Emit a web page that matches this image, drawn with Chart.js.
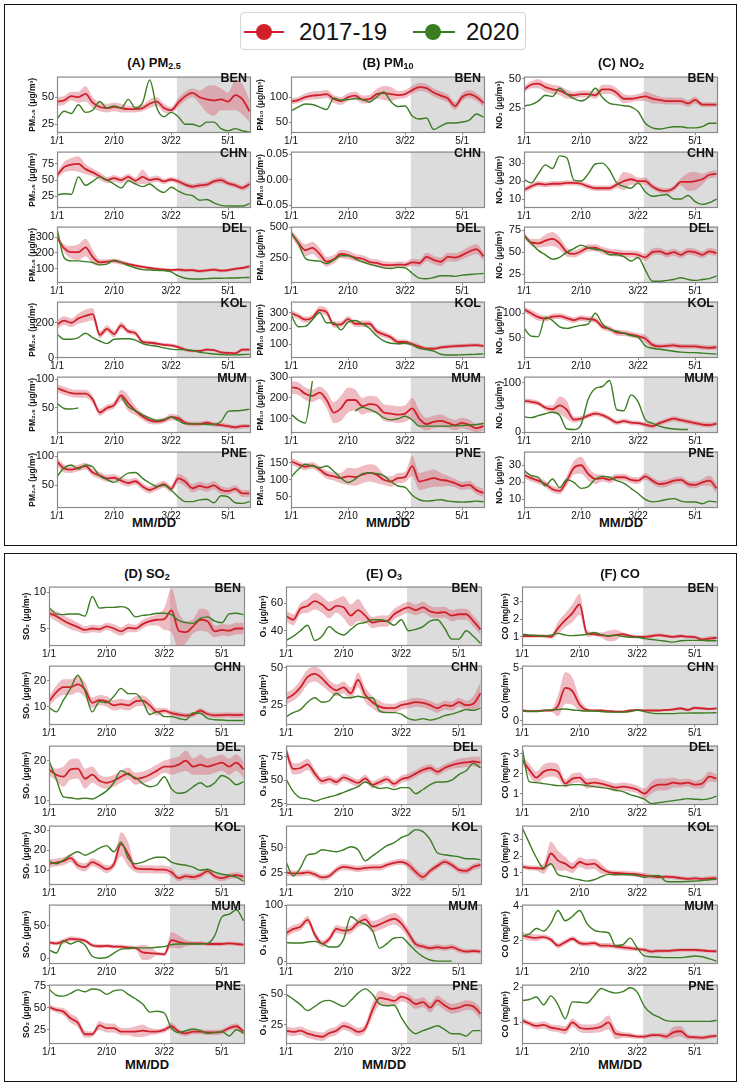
<!DOCTYPE html>
<html>
<head>
<meta charset="utf-8">
<title>Pollutants 2017-19 vs 2020</title>
<script src="https://cdn.jsdelivr.net/npm/chart.js@4.4.1/dist/chart.umd.min.js"></script>
<style>
  body { margin: 0; background: #fff; font-family: "Liberation Sans", Arial, sans-serif; }
  #page { position: relative; width: 742px; height: 1085px; overflow: hidden; }
  .box { position: absolute; border: 1.5px solid #111; box-sizing: border-box; }
  .abs { position: absolute; white-space: nowrap; color: #111; }
  .coltitle { font-weight: bold; font-size: 13px; line-height: 14px; text-align: center; }
  .coltitle sub { font-size: 9px; vertical-align: -2px; line-height: 0; }
  .station { font-weight: bold; font-size: 12.5px; line-height: 13px; text-align: right; }
  .xlabel { font-weight: bold; font-size: 13px; line-height: 14px; text-align: center; }
  canvas { position: absolute; }
  #legend { position: absolute; left: 240px; top: 12px; width: 286px; height: 38px; border: 1px solid #d4d4d4; border-radius: 4px; box-sizing: border-box; background: #fff; }
  .lg-line { position: absolute; height: 2px; top: 18px; }
  .lg-dot { position: absolute; width: 16px; height: 16px; border-radius: 50%; top: 11px; }
  .lg-text { position: absolute; font-size: 24px; line-height: 28px; top: 5px; color: #111; }
</style>
</head>
<body>
<div id="page">
  <div class="box" style="left:4px;top:4px;width:733px;height:542px"></div>
  <div class="box" style="left:4px;top:553px;width:733px;height:529px"></div>
  <div id="legend">
    <div class="lg-line" style="left:3px;width:40px;background:#d0202a"></div>
    <div class="lg-dot" style="left:15px;background:#d0202a"></div>
    <div class="lg-text" style="left:58px">2017-19</div>
    <div class="lg-line" style="left:172px;width:42px;background:#3a7d22"></div>
    <div class="lg-dot" style="left:184px;background:#3a7d22"></div>
    <div class="lg-text" style="left:225px">2020</div>
  </div>
</div>
<script>
// x axis: days since 1/1 (2020 calendar), sampled every 5 days
const DAYS = [0,5,10,15,20,25,30,35,40,45,50,55,60,65,70,75,80,85,90,95,100,105,110,115,120,125,130,135];
const X_TICKS = [0, 40, 80, 120];
const X_TICK_LABELS = ['1/1', '2/10', '3/22', '5/1'];
const LOCKDOWN_DAY = 84; // shaded from 3/25
const X_MAX = 136;
const STATIONS = ['BEN', 'CHN', 'DEL', 'KOL', 'MUM', 'PNE'];

// ---- PM2.5 ----
const PM25_BEN_1719 = [46,47,51,50,53,45,41,40,41,40,39,39,40,44,46,40,38,45,51,54,50,48,47,48,46,52,48,37];
const PM25_BEN_BAND = [4,4,4,5,7,5,4,4,4,4,3,3,3,4,4,4,3,4,4,4,6,12,14,10,8,14,14,10];
const PM25_BEN_2020 = [30,37,35,43,36,38,46,40,42,40,48,40,45,66,40,32,36,32,25,25,23,27,27,21,19,21,19,18];
const PM25_CHN_1719 = [57,70,74,75,67,62,56,50,53,50,55,49,55,50,52,48,51,48,43,40,42,43,48,50,45,42,38,44];
const PM25_CHN_BAND = [5,8,10,12,8,6,6,5,5,5,5,5,11,5,5,4,4,4,4,4,4,4,4,5,4,4,4,5];
const PM25_CHN_2020 = [27,29,28,55,42,48,55,50,44,38,49,44,40,44,36,31,39,33,28,26,19,20,15,11,10,10,10,14];
const PM25_DEL_1719 = [300,230,205,205,235,175,140,145,150,140,130,120,112,105,100,95,92,95,90,92,85,90,95,88,92,100,105,115];
const PM25_DEL_BAND = [10,25,40,50,55,45,20,15,15,15,10,10,10,10,10,10,10,10,10,10,10,10,10,10,10,10,10,12];
const PM25_DEL_2020 = [355,170,150,150,145,140,125,130,155,140,120,105,95,92,90,88,80,55,40,35,35,38,40,40,42,42,44,45];
const PM25_KOL_1719 = [190,212,200,225,240,250,130,165,135,185,150,140,90,85,80,73,70,60,45,38,38,45,42,30,26,24,45,45];
const PM25_KOL_BAND = [25,25,25,30,35,35,20,20,20,20,15,15,12,12,10,10,10,10,10,8,8,8,8,8,8,8,10,10];
const PM25_KOL_2020 = [134,105,105,115,140,115,95,80,105,108,108,100,80,70,65,55,48,45,45,40,30,25,20,17,15,15,17,18];
const PM25_MUM_1719 = [85,80,76,75,75,65,42,50,55,72,58,45,35,28,26,28,34,32,24,22,22,24,21,20,18,16,18,18];
const PM25_MUM_BAND = [7,7,7,7,7,7,6,6,6,10,14,8,6,6,5,5,6,5,4,4,4,4,4,4,4,4,4,4];
const PM25_MUM_2020 = [58,49,48,50,null,null,null,null,null,70,52,45,38,32,28,30,34,28,22,22,22,21,21,26,44,45,46,48];
const PM25_PNE_1719 = [91,79,77,80,83,72,67,62,63,58,54,57,48,42,47,52,44,62,56,45,49,46,50,42,40,44,36,36];
const PM25_PNE_BAND = [7,7,6,6,6,6,6,6,6,6,6,6,6,6,6,6,6,8,8,7,7,7,7,7,6,6,6,6];
const PM25_PNE_2020 = [65,80,85,78,85,82,66,60,55,63,71,72,62,54,48,50,42,30,22,22,25,26,20,32,30,20,19,22];

// ---- PM10 ----
const PM10_BEN_1719 = [91,94,100,103,104,106,96,92,100,103,95,96,106,108,106,104,106,114,120,118,109,103,97,82,100,106,100,88];
const PM10_BEN_BAND = [6,6,7,8,8,8,8,8,8,8,8,8,10,14,14,8,8,8,8,8,8,8,8,8,8,8,8,8];
const PM10_BEN_2020 = [72,80,86,85,80,75,98,94,95,97,95,90,100,110,91,81,82,62,56,58,35,42,48,48,50,54,66,60];
const PM10_CHN_1719 = [];
const PM10_CHN_BAND = [];
const PM10_CHN_2020 = [];
const PM10_DEL_1719 = [455,375,310,330,280,215,235,280,270,250,240,215,205,190,188,192,190,210,205,255,230,215,255,250,270,300,320,260];
const PM10_DEL_BAND = [25,40,50,50,50,40,35,35,35,30,30,30,30,30,25,25,25,30,30,35,35,35,35,35,35,40,40,35];
const PM10_DEL_2020 = [455,370,245,225,220,200,230,265,265,240,215,195,180,165,160,170,165,120,80,75,85,100,100,95,105,110,115,118];
const PM10_KOL_1719 = [297,278,255,268,316,303,223,225,258,229,229,229,181,161,142,113,113,99,83,70,70,78,83,87,89,91,93,87];
const PM10_KOL_BAND = [20,20,20,20,25,25,20,20,20,20,20,20,20,20,18,18,15,15,15,12,12,12,12,12,12,12,12,12];
const PM10_KOL_2020 = [287,210,212,255,300,235,235,190,239,250,228,200,152,120,105,102,105,95,72,65,55,35,30,30,32,33,35,37];
const PM10_MUM_1719 = [250,245,220,210,225,190,130,150,190,190,160,170,165,130,125,120,125,150,100,75,85,90,80,70,80,70,55,65];
const PM10_MUM_BAND = [30,30,30,30,30,40,50,60,60,50,40,40,40,40,40,40,40,50,40,30,30,30,25,25,25,25,20,20];
const PM10_MUM_2020 = [123,94,80,280,null,null,null,null,null,138,155,145,130,105,95,100,112,95,65,65,65,65,65,67,68,70,73,78];
const PM10_PNE_1719 = [154,145,138,142,130,115,110,105,110,108,115,120,115,100,95,105,108,140,95,100,105,100,97,90,82,85,70,62];
const PM10_PNE_BAND = [10,10,10,10,10,12,12,15,25,25,25,25,25,15,15,15,15,30,25,25,25,20,15,12,12,12,12,12];
const PM10_PNE_2020 = [108,130,145,140,135,140,125,105,92,102,118,120,118,112,95,82,78,55,42,38,40,42,38,36,35,36,38,36];

// ---- NO2 ----
const NO2_BEN_1719 = [41,45,46,43,41,40,37,36,37,37,36,41,41,38,33,33,34,35,33,32,31,31,31,29,32,28,28,28];
const NO2_BEN_BAND = [3,3,4,4,4,4,4,3,3,3,3,4,4,4,4,3,3,4,4,3,3,3,3,3,3,2,2,2];
const NO2_BEN_2020 = [27,28,31,36,35,42,37,33,31,34,42,34,29,28,27,26,22,12,8,7,8,9,9,8,8,9,12,12];
const NO2_CHN_1719 = [15,17,18.5,18,18.5,18.5,19,19,18.5,17,16,16,16,18,20,21,20,20,17,15,14.5,16,19.5,19.5,20,21,23.5,24];
const NO2_CHN_BAND = [1.5,1.5,1.5,1.5,1.5,1.5,1.5,1.5,1.5,1.5,1.5,1.5,1.5,2,5,3,2,2,1.5,1.5,1.5,1.5,2,5,5,3,2,2];
const NO2_CHN_2020 = [21,19,24,29,27,34,33,20.5,20,24,29.5,30,26,19,17,16,19,14,11.5,12,12.5,10,10,12,8.5,7,8,10];
const NO2_DEL_1719 = [69,61,60,63,65,60,50,48,51,55,55,52,50,49,48,48,47,44,50,51,48,50,47,51,50,47,51,49];
const NO2_DEL_BAND = [3,4,5,7,8,7,5,4,4,4,4,4,4,4,4,4,4,4,4,4,4,4,4,4,4,4,4,4];
const NO2_DEL_2020 = [69,60,52,47,42,44,50,54,58,55,53,52,47,47,45,40,44,30,17,17,18,19,21,19,18,19,20,23];
const NO2_KOL_1719 = [108,100,92,89,93,94,90,86,90,88,86,72,68,60,59,56,53,48,35,32,33,34,32,32,32,30,29,30];
const NO2_KOL_BAND = [6,7,7,6,6,6,6,6,6,6,6,6,6,6,6,6,6,8,6,5,5,5,5,5,5,5,5,5];
const NO2_KOL_2020 = [70,53,52,92,85,72,69,72,75,78,100,78,67,63,59,54,51,33,28,26,24,22,20,19,19,18,17,16];
const NO2_MUM_1719 = [63,61,58,49,46,54,45,25,27,33,37,34,27,19,22,19,18,15,12,18,23,27,24,21,18,15,14,17];
const NO2_MUM_BAND = [5,5,5,5,8,18,18,6,5,5,5,5,5,5,5,5,5,5,5,5,5,5,5,5,5,5,5,5];
const NO2_MUM_2020 = [31,29,33,37,40,34,6,5,15,66,88,92,104,45,43,75,61,25,18,12,8,6,5,5,null,null,null,null];
const NO2_PNE_1719 = [24.4,22.5,21,19,16,15,21,28.5,30,25,22,22.5,21.5,23,23,21.5,21,23.5,21,19,19.5,21,21.5,19,18.5,20,21,16.5];
const NO2_PNE_BAND = [2,2,2,2,2,2,3,4,5,4,3,2,2,2,2,2,2,2,2,2,2,2,2,2,2,2,3,3];
const NO2_PNE_2020 = [27,24,23,18,22,17,21.5,20,16.5,17.5,22,23.5,23,21,19.5,16.5,13.5,10,8.6,9,10,10.5,9,8.5,8.5,7.5,9,8.5];

// ---- SO2 ----
const SO2_BEN_1719 = [7.1,6.7,6.1,5.6,5.2,4.8,5.0,4.9,5.3,5.0,4.6,5.1,5.0,5.6,6.0,6.2,6.3,7.5,4.7,4.5,5.3,6.2,6.0,4.6,4.8,4.7,5.0,5.0];
const SO2_BEN_BAND = [0.5,0.7,0.7,0.7,0.6,0.5,0.5,0.5,0.5,0.6,0.6,0.6,0.5,0.6,0.6,0.8,1.5,3,2.5,1.5,1,1.5,1.5,0.8,0.8,0.8,0.8,0.8];
const SO2_BEN_2020 = [7.9,7.0,6.9,7.0,7.0,6.7,9.4,7.8,7.9,7.9,8.0,7.7,6.6,6.8,6.9,7.1,7.1,6.9,6.1,5.8,5.7,6.4,6.6,6.0,5.8,7.0,7.1,6.9];
const SO2_CHN_1719 = [12,15.5,17.5,17.5,18.5,16.5,11.5,12.5,12,10.5,11,10.5,12,12.3,10.5,8,8.5,7.5,7,6.6,7,8.5,7.2,6.7,6.8,6.9,6.8,6.9];
const SO2_CHN_BAND = [2,2.5,3,3,3,3,2,2,2,2,2,2,2,2,2,1.5,1,1,1,1,1,1,1,1,1,1,1,1];
const SO2_CHN_2020 = [9.7,8,12.5,17,22,16,8,12,11.5,14,17,15,15,12,7,8,6.2,6.2,5.5,5,7.6,7.5,5.5,5,4.9,4.7,4.7,4.7];
const SO2_DEL_1719 = [17.8,16.5,16,17.8,18,15.5,16.5,15,14.5,15,16,16.8,15.5,15.8,16.5,17.5,18.5,18.5,19,20,18.5,19,18.5,19,19.5,18.5,19.5,17.8];
const SO2_DEL_BAND = [1.5,1.5,2.5,2.5,2.5,2.5,2,1.5,1.5,1.5,1.5,1.5,1.5,1.5,1.5,1.5,1.5,2,2,2.5,2,2.5,2,2,2,2,2,2];
const SO2_DEL_2020 = [20,15.5,11,10.8,10.5,10.7,10.5,11.3,12.5,14.5,17.5,16.5,15.8,14.3,13.5,14,16,13,11.9,12.2,13.5,14.5,13.5,14.5,16.3,15.5,14,14.8];
const SO2_KOL_1719 = [13.2,13.8,14.5,16,12.5,11.5,14,12.5,10.5,13,23,18,11,10.5,10.5,10.3,10.3,9,6,7,6.5,7.5,9.5,7,6,7,7.5,6.8];
const SO2_KOL_BAND = [2,2,2,2,2,2,2,2,2,2,6,6,2,2,2,2,2,2,1.5,1.5,1.5,1.5,1.5,1.5,1.5,1.5,1.5,1.5];
const SO2_KOL_2020 = [14.7,13.2,15,17.5,19.2,17.5,19,21,22.3,19.2,24,16,13.2,14,15.5,16.5,16.5,14,13,12.5,11.5,10,10.5,9,8,7.5,6.5,4.5];
const SO2_MUM_1719 = [24.5,23,26,30,29,27,20,18.5,19,18,18,16.5,16,9,8,7,6,28,25,23,23,23,22,22,22,23,22,21];
const SO2_MUM_BAND = [3,3,4,4,4,3,3,3,3,3,3,3,3,12,10,3,3,12,10,5,3,3,3,3,3,3,3,3];
const SO2_MUM_2020 = [13,8,27,22,26,20,3,0,1,8,14,15,16,16,16,17,18,21,22,22,22,22,23,35,64,68,75,58];
const SO2_PNE_1719 = [50.7,47.5,45.5,38,33,20,20,30,27,27,23,23,23,24,23,23,25,29,23,21,23,23,22,22,23,27,29,23];
const SO2_PNE_BAND = [3,3,4,5,5,4,3,5,5,5,4,4,6,7,4,3,3,4,3,3,3,3,3,3,3,3,3,3];
const SO2_PNE_2020 = [71,64,63,66,70,68,71,70,65,69,70,65,60,54,45,46,44,27,22,24,26,24,21,22,23,18,25,21];

// ---- O3 ----
const O3_BEN_1719 = [50.7,48,56,58,61.5,59,55,58,57,51,55,51,46,47,47,52,55,57,55,57,54,53,53.5,51,52,52,47,41];
const O3_BEN_BAND = [4,4,4,5,6,6,6,5,8,8,8,5,4,4,4,4,4,4,4,4,4,4,4,4,4,4,4,4];
const O3_BEN_2020 = [33,36,40,44,33,36,43,39,37,41,45,46,48,48,47,44,48,40,41,43,47,48,42,34,34,40,36,31];
const O3_CHN_1719 = [29.4,32,37,44,46,43,38,35,37,33,42,32,27,24,23,23,25,26,27,26.5,25,23,25,24.5,27,25,26,33];
const O3_CHN_BAND = [4,4,5,5,5,5,4,4,4,4,5,5,4,4,3,3,3,3,3,3,3,3,3,3,3,3,5,8];
const O3_CHN_2020 = [17.3,20,22,27,30,27,28,33,30,30,31,30,30,21,20,20,19,16,15,16,15,16,18,19,20.5,22,21.5,23];
const O3_DEL_1719 = [82,62,63,67,57,49,51,48,53,50,47,52,45,48,51,46,51,53,57,61,63,59,63,66,68,69,70,69];
const O3_DEL_BAND = [6,6,6,6,5,4,4,4,4,4,4,4,4,4,4,4,4,4,4,4,4,4,4,4,5,5,5,6];
const O3_DEL_2020 = [51,38,31,30,27.5,30,32,34,37,40,43,48,44,41,42,40,42,42,35.5,40,45,48,48,50,56,60,68,63];
const O3_KOL_1719 = [25.6,24.5,24.5,25.5,23.5,20.5,22,28,31,30,29,30,30.5,30.5,33,35,36,33,26,21,27,32,36,33,28,27,31,33];
const O3_KOL_BAND = [3,3,3,3,3,3,3,3,3,3,3,3,3,3,3,3,3,4,4,4,3,3,3,3,3,3,3,3];
const O3_KOL_2020 = [36,22,30,43,44,48,47,46,48,51,48,37,42,47,52,55,60,63,68,66,58,45,43,42,41,39,39,38];
const O3_MUM_1719 = [50,58,62,74,48,32,40,58,55,57,69,75,62,66,72,76,68,50,31,27,24,26,24,26,21,18,19,18];
const O3_MUM_BAND = [7,7,7,7,7,6,6,7,7,7,8,10,10,10,10,10,10,8,6,5,5,5,5,5,5,4,4,4];
const O3_MUM_2020 = [34,33,33,35,36,32,26,26,40,80,71,66,55,24,32,42,43,32,19,9,3,1,1,1,null,null,null,null];
const O3_PNE_1719 = [20,19,20,17.5,16,15,18,20,24,22,19,22,37,47,46,44.5,48,46,42,43.5,39,45,41,38,39,41,40,34];
const O3_PNE_BAND = [3.5,3.5,3.5,3.5,3.5,3.5,3.5,3.5,3.5,3.5,3.5,3.5,6,6,5,4,4,4,4,4,4,4,4,4,4,4,4,5];
const O3_PNE_2020 = [50,46,41.5,36.5,40,44,45,42.5,40,45,51,54.5,50,42,40.5,41,31,22,17.5,20,22,24,21,17.5,17.5,15.5,20,20];

// ---- CO ----
const CO_BEN_1719 = [1.05,1.05,1.05,1.05,1.0,1.5,1.95,2.35,2.85,1.2,1.15,1.1,1.05,1.1,1.15,1.05,1.0,1.0,1.05,1.1,1.05,1.0,1.05,1.0,0.98,0.85,0.9,0.95];
const CO_BEN_BAND = [0.1,0.1,0.1,0.1,0.1,0.35,0.4,0.5,0.6,0.2,0.1,0.15,0.3,0.3,0.1,0.1,0.1,0.1,0.1,0.1,0.1,0.1,0.1,0.1,0.1,0.12,0.15,0.1];
const CO_BEN_2020 = [1.15,1.1,1.08,1.05,1.1,1.2,1.1,1.07,1.1,1.15,1.25,1.12,1.05,1.1,1.02,0.98,0.98,0.9,0.85,0.8,0.75,0.7,0.78,0.8,0.8,0.8,0.78,0.78];
const CO_CHN_1719 = [0.95,0.9,0.9,0.95,0.95,1.4,3.1,2.8,1.5,1.0,0.95,0.95,0.9,0.85,0.85,0.95,1.0,0.95,0.95,0.95,1.0,1.05,1.15,1.0,1.2,1.15,1.1,1.15];
const CO_CHN_BAND = [0.1,0.1,0.1,0.1,0.1,1.0,1.5,1.3,0.6,0.2,0.1,0.1,0.1,0.1,0.1,0.1,0.1,0.1,0.1,0.1,0.1,0.12,0.15,0.15,0.15,0.15,0.12,0.12];
const CO_CHN_2020 = [0.9,0.85,0.85,0.95,1.0,1.05,1.1,1.0,0.95,0.9,0.9,0.85,0.8,0.8,0.8,0.85,1.0,0.85,0.7,0.65,0.65,0.65,0.7,0.7,0.72,0.72,0.73,0.75];
const CO_DEL_1719 = [2.7,2.2,1.8,2.1,2.2,2.1,1.5,1.75,1.8,1.5,1.55,1.5,1.4,1.3,1.35,1.3,1.2,1.0,1.3,1.45,1.45,1.55,1.5,1.55,1.45,1.5,1.85,1.75];
const CO_DEL_BAND = [0.2,0.3,0.3,0.35,0.35,0.35,0.2,0.25,0.25,0.25,0.25,0.2,0.2,0.2,0.2,0.2,0.2,0.25,0.3,0.3,0.3,0.25,0.2,0.2,0.2,0.25,0.25,0.2];
const CO_DEL_2020 = [3.35,1.6,1.55,1.5,1.45,1.4,1.4,1.45,1.45,1.4,1.35,1.3,1.25,1.17,1.1,0.95,0.85,0.72,0.5,0.55,0.6,0.65,0.7,0.75,0.72,0.7,0.75,0.87];
const CO_KOL_1719 = [1.38,1.3,1.28,1.25,2.15,1.73,1.55,1.3,1.65,1.5,1.55,1.25,1.05,1.0,0.98,0.95,0.92,0.85,0.8,0.75,0.78,0.75,0.7,0.65,0.68,0.65,0.68,0.7];
const CO_KOL_BAND = [0.15,0.15,0.15,0.3,0.7,0.6,0.4,0.3,0.3,0.3,0.3,0.3,0.15,0.15,0.15,0.15,0.15,0.15,0.12,0.12,0.12,0.12,0.12,0.12,0.12,0.12,0.12,0.15];
const CO_KOL_2020 = [3.7,2.78,1.9,1.3,1.55,0.9,0.8,0.68,0.6,0.52,0.6,0.78,0.92,0.9,0.91,0.9,0.85,0.75,0.82,0.85,0.5,0.48,0.48,0.5,0.52,0.55,0.6,0.63];
const CO_MUM_1719 = [2.3,2.2,2.15,2.2,2.05,1.7,1.9,2.1,1.85,1.8,1.85,1.7,1.7,1.65,1.6,1.55,1.5,1.45,1.35,1.4,1.4,1.42,1.45,1.45,1.45,1.42,1.38,1.37];
const CO_MUM_BAND = [0.2,0.2,0.2,0.15,0.15,0.15,0.15,0.15,0.15,0.15,0.15,0.15,0.15,0.15,0.15,0.15,0.12,0.12,0.12,0.12,0.1,0.1,0.1,0.1,0.1,0.1,0.1,0.1];
const CO_MUM_2020 = [2.25,2.37,2.7,2.55,3.0,3.75,3.15,3.4,3.75,3.0,2.6,2.5,2.45,1.7,1.75,2.14,1.55,1.1,1.05,1.02,1.0,1.0,1.0,1.05,1.1,1.05,0.93,0.8];
const CO_PNE_1719 = [1.06,0.97,0.9,0.93,0.85,0.82,0.78,1.0,0.85,0.82,0.83,0.88,1.0,0.68,0.65,0.63,0.6,0.6,0.64,0.64,0.6,0.72,0.75,0.6,0.58,0.57,0.6,0.62];
const CO_PNE_BAND = [0.08,0.08,0.1,0.1,0.1,0.1,0.12,0.12,0.12,0.12,0.12,0.15,0.2,0.15,0.08,0.08,0.06,0.06,0.06,0.06,0.08,0.15,0.15,0.08,0.06,0.06,0.06,0.06];
const CO_PNE_2020 = [1.62,1.65,1.72,1.5,1.75,1.5,1.1,1.58,1.57,1.55,1.75,1.96,1.88,1.83,1.87,1.98,1.85,1.45,1.25,1.15,1.05,1.03,1.03,1.03,1.03,1.03,1.03,1.06];

// y axis ranges and ticks, one entry per station (BEN..PNE)
const PM25_YRANGE = [[17,69],[7,94],[10,367],[-3,322],[6,105],[11,108]];
const PM25_YTICKS = [[25,50],[25,50,75],[100,200,300],[0,200],[50,100],[50,100]];
const PM10_YRANGE = [[28,141],[-0.0554,0.0554],[40,505],[11,370],[32,302],[18,182]];
const PM10_YTICKS = [[50,100],[-0.05,0,0.05],[250,500],[100,200,300],[100,200,300],[50,100,150]];
const NO2_YRANGE = [[3.6,52],[5,36.4],[15,79],[8,124],[-2,112],[5,38]];
const NO2_YTICKS = [[25,50],[10,20,30],[25,50,75],[50,100],[0,100],[10,20,30]];
const SO2_YRANGE = [[2.6,10.75],[3,25.7],[9,23.7],[2.6,32.3],[-9,83],[9,76]];
const SO2_YTICKS = [[5,10],[10,20],[10,20],[10,20,30],[0,50],[25,50,75]];
const O3_YRANGE = [[29,72],[11.7,51.6],[23.4,87],[13,72],[-4,101],[9,58]];
const O3_YTICKS = [[40,60],[25,50],[25,50,75],[25,50],[0,100],[25,50]];
const CO_YRANGE = [[0.48,3.86],[-0.43,5.23],[0.43,3.4],[0.29,3.8],[0.63,4.09],[0.39,2.07]];
const CO_YTICKS = [[1,2,3],[0,5],[1,2,3],[1,2,3],[2,4],[1,2]];

const COL_TITLES = ['(A) PM<sub>2.5</sub>', '(B) PM<sub>10</sub>', '(C) NO<sub>2</sub>', '(D) SO<sub>2</sub>', '(E) O<sub>3</sub>', '(F) CO'];
const Y_TITLES = ['PM\u2082.\u2085 (\u03bcg/m\u00b3)', 'PM\u2081\u2080 (\u03bcg/m\u00b3)', 'NO\u2082 (\u03bcg/m\u00b3)',
                  'SO\u2082 (\u03bcg/m\u00b3)', 'O\u2083 (\u03bcg/m\u00b3)', 'CO (mg/m\u00b3)'];

const SERIES = {
  PM25: [[PM25_BEN_1719, PM25_BEN_BAND, PM25_BEN_2020], [PM25_CHN_1719, PM25_CHN_BAND, PM25_CHN_2020], [PM25_DEL_1719, PM25_DEL_BAND, PM25_DEL_2020],
         [PM25_KOL_1719, PM25_KOL_BAND, PM25_KOL_2020], [PM25_MUM_1719, PM25_MUM_BAND, PM25_MUM_2020], [PM25_PNE_1719, PM25_PNE_BAND, PM25_PNE_2020]],
  PM10: [[PM10_BEN_1719, PM10_BEN_BAND, PM10_BEN_2020], [PM10_CHN_1719, PM10_CHN_BAND, PM10_CHN_2020], [PM10_DEL_1719, PM10_DEL_BAND, PM10_DEL_2020],
         [PM10_KOL_1719, PM10_KOL_BAND, PM10_KOL_2020], [PM10_MUM_1719, PM10_MUM_BAND, PM10_MUM_2020], [PM10_PNE_1719, PM10_PNE_BAND, PM10_PNE_2020]],
  NO2: [[NO2_BEN_1719, NO2_BEN_BAND, NO2_BEN_2020], [NO2_CHN_1719, NO2_CHN_BAND, NO2_CHN_2020], [NO2_DEL_1719, NO2_DEL_BAND, NO2_DEL_2020],
        [NO2_KOL_1719, NO2_KOL_BAND, NO2_KOL_2020], [NO2_MUM_1719, NO2_MUM_BAND, NO2_MUM_2020], [NO2_PNE_1719, NO2_PNE_BAND, NO2_PNE_2020]],
  SO2: [[SO2_BEN_1719, SO2_BEN_BAND, SO2_BEN_2020], [SO2_CHN_1719, SO2_CHN_BAND, SO2_CHN_2020], [SO2_DEL_1719, SO2_DEL_BAND, SO2_DEL_2020],
        [SO2_KOL_1719, SO2_KOL_BAND, SO2_KOL_2020], [SO2_MUM_1719, SO2_MUM_BAND, SO2_MUM_2020], [SO2_PNE_1719, SO2_PNE_BAND, SO2_PNE_2020]],
  O3: [[O3_BEN_1719, O3_BEN_BAND, O3_BEN_2020], [O3_CHN_1719, O3_CHN_BAND, O3_CHN_2020], [O3_DEL_1719, O3_DEL_BAND, O3_DEL_2020],
       [O3_KOL_1719, O3_KOL_BAND, O3_KOL_2020], [O3_MUM_1719, O3_MUM_BAND, O3_MUM_2020], [O3_PNE_1719, O3_PNE_BAND, O3_PNE_2020]],
  CO: [[CO_BEN_1719, CO_BEN_BAND, CO_BEN_2020], [CO_CHN_1719, CO_CHN_BAND, CO_CHN_2020], [CO_DEL_1719, CO_DEL_BAND, CO_DEL_2020],
       [CO_KOL_1719, CO_KOL_BAND, CO_KOL_2020], [CO_MUM_1719, CO_MUM_BAND, CO_MUM_2020], [CO_PNE_1719, CO_PNE_BAND, CO_PNE_2020]],
};
const YRANGE = { PM25: PM25_YRANGE, PM10: PM10_YRANGE, NO2: NO2_YRANGE, SO2: SO2_YRANGE, O3: O3_YRANGE, CO: CO_YRANGE };
const YTICKS = { PM25: PM25_YTICKS, PM10: PM10_YTICKS, NO2: NO2_YTICKS, SO2: SO2_YTICKS, O3: O3_YTICKS, CO: CO_YTICKS };

// layout of the two framed blocks
const BOXES = [
  { pollutants: ['PM25', 'PM10', 'NO2'], first: 0, plotLeft: [57, 291, 524], axisW: [29, 35, 29], plotW: 194,
    rowTop: [71, 146, 221, 296, 371, 446], plotH: 62, titleTop: 56, xlabelTop: 516 },
  { pollutants: ['SO2', 'O3', 'CO'], first: 3, plotLeft: [49, 286, 522], axisW: [27, 27, 21], plotW: 196,
    rowTop: [581, 660, 740, 820, 899, 979], plotH: 65, titleTop: 567, xlabelTop: 1058 },
];

const RED = '#d0202a';
const GREEN = '#3a7d22';
const BAND_COLOR = 'rgba(214, 96, 110, 0.42)';
const SHADE_COLOR = '#dcdcdc';
const FRAME_COLOR = '#8a8a8a';
const TEXT_COLOR = '#111';

Chart.defaults.font.family = '"Liberation Sans", Arial, sans-serif';

const page = document.getElementById('page');
function addDiv(cls, html, css) {
  const d = document.createElement('div');
  d.className = 'abs ' + cls;
  d.innerHTML = html;
  Object.assign(d.style, css);
  page.appendChild(d);
}

const lockdownShade = {
  id: 'lockdownShade',
  beforeDatasetsDraw(chart) {
    const { ctx, chartArea: a, scales: { x } } = chart;
    const x0 = x.getPixelForValue(LOCKDOWN_DAY);
    ctx.save();
    ctx.fillStyle = SHADE_COLOR;
    ctx.fillRect(x0, a.top, a.right - x0, a.bottom - a.top);
    ctx.restore();
  },
  afterDraw(chart) {
    const { ctx, chartArea: a } = chart;
    ctx.save();
    ctx.strokeStyle = FRAME_COLOR;
    ctx.lineWidth = 1.2;
    ctx.strokeRect(a.left + 0.5, a.top + 0.5, a.right - a.left - 1, a.bottom - a.top - 1);
    ctx.restore();
  }
};

const pts = arr => DAYS.map((d, i) => ({ x: d, y: arr[i] == null ? null : arr[i] }));
const fmtY = ticks => {
  const dec = ticks.some(t => !Number.isInteger(t));
  return v => dec ? v.toFixed(2).replace('-', '\u2212') : String(v);
};

BOXES.forEach(box => {
  box.pollutants.forEach((pol, c) => {
    const plotL = box.plotLeft[c], axisW = box.axisW[c];
    addDiv('coltitle', COL_TITLES[box.first + c], { left: plotL + 'px', top: box.titleTop + 'px', width: box.plotW + 'px' });
    addDiv('xlabel', 'MM/DD', { left: plotL + 'px', top: box.xlabelTop + 'px', width: box.plotW + 'px' });

    STATIONS.forEach((st, r) => {
      const top = box.rowTop[r];
      const [red, band, green] = SERIES[pol][r];
      const [ymin, ymax] = YRANGE[pol][r];
      const yt = YTICKS[pol][r];

      const w = axisW + box.plotW + 3, h = box.plotH + 2 + 13;
      const canvas = document.createElement('canvas');
      canvas.width = w; canvas.height = h;
      Object.assign(canvas.style, { left: (plotL - axisW) + 'px', top: (top - 2) + 'px', width: w + 'px', height: h + 'px' });
      page.appendChild(canvas);

      const datasets = red.length ? [
        { data: pts(red.map((v, i) => v + band[i])), borderWidth: 0, borderColor: 'transparent', backgroundColor: BAND_COLOR, fill: '+1', order: 3 },
        { data: pts(red.map((v, i) => v - band[i])), borderWidth: 0, borderColor: 'transparent', fill: false, order: 3 },
        { data: pts(red), borderColor: RED, borderWidth: 1.8, fill: false, order: 1 },
        { data: pts(green), borderColor: GREEN, borderWidth: 1.4, fill: false, order: 0 },
      ] : [];

      new Chart(canvas, {
        type: 'line',
        data: { datasets },
        options: {
          responsive: false, animation: false, devicePixelRatio: 1,
          layout: { padding: { top: 2, right: 3, left: 0, bottom: 0 } },
          plugins: { legend: { display: false }, tooltip: { enabled: false } },
          elements: { point: { radius: 0 }, line: { cubicInterpolationMode: 'monotone' } },
          spanGaps: false,
          scales: {
            x: {
              type: 'linear', min: 0, max: X_MAX,
              afterBuildTicks: s => { s.ticks = X_TICKS.map(v => ({ value: v })); },
              afterFit: s => { s.height = 13; },
              ticks: { autoSkip: false, maxRotation: 0, padding: 0, font: { size: 10 }, color: TEXT_COLOR,
                       callback: v => X_TICK_LABELS[X_TICKS.indexOf(v)] },
              grid: { display: true, drawOnChartArea: false, tickLength: 2, color: FRAME_COLOR },
              border: { display: false },
            },
            y: {
              type: 'linear', min: ymin, max: ymax,
              afterBuildTicks: s => { s.ticks = yt.map(v => ({ value: v })); },
              afterFit: s => { s.width = axisW; },
              ticks: { autoSkip: false, padding: 1, font: { size: 11 }, color: TEXT_COLOR, callback: fmtY(yt) },
              grid: { display: true, drawOnChartArea: false, tickLength: 2, color: FRAME_COLOR },
              border: { display: false },
              title: { display: true, text: Y_TITLES[box.first + c], padding: 0, color: TEXT_COLOR,
                       font: { size: 8.5, weight: 'bold' } },
            },
          },
        },
        plugins: [lockdownShade],
      });

      addDiv('station', st, { left: plotL + 'px', top: (top + 1) + 'px', width: (box.plotW - 4) + 'px' });
    });
  });
});
</script>
</body>
</html>
